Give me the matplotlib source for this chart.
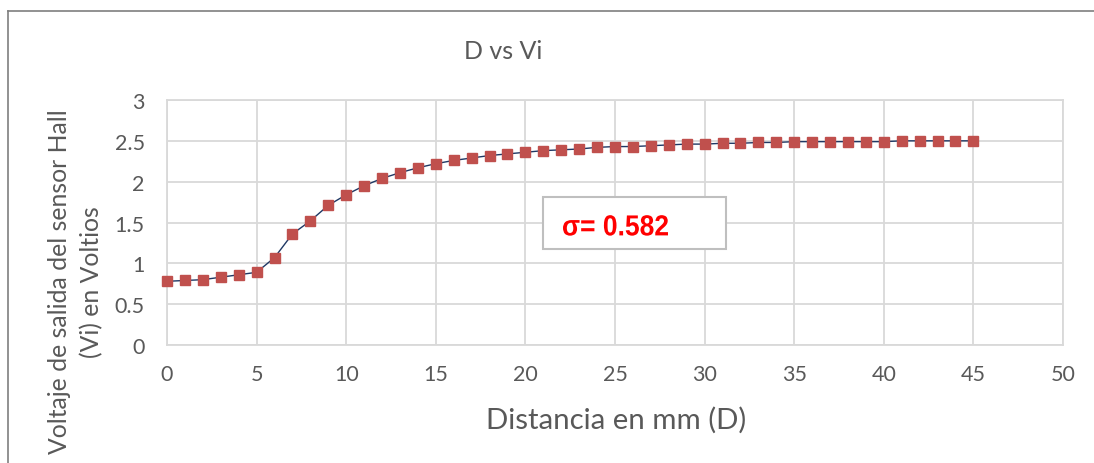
import matplotlib
matplotlib.use("Agg")
import matplotlib.pyplot as plt
from matplotlib.font_manager import FontProperties
from matplotlib.lines import Line2D
from matplotlib.patches import PathPatch, Rectangle
from matplotlib.textpath import TextPath
from matplotlib.transforms import Affine2D

# distance (mm) vs Hall sensor output (V)
distancia = list(range(0, 46))
voltaje = [
    0.78, 0.79, 0.80, 0.83, 0.86, 0.89, 1.07, 1.36, 1.52, 1.71,
    1.84, 1.95, 2.04, 2.11, 2.17, 2.22, 2.26, 2.29, 2.32, 2.34,
    2.36, 2.38, 2.39, 2.40, 2.42, 2.43, 2.43, 2.44, 2.45, 2.46,
    2.46, 2.47, 2.47, 2.48, 2.48, 2.49, 2.49, 2.49, 2.49, 2.49,
    2.49, 2.50, 2.50, 2.50, 2.50, 2.50,
]
x_ticks = [0, 5, 10, 15, 20, 25, 30, 35, 40, 45, 50]
y_ticks = [0, 0.5, 1, 1.5, 2, 2.5, 3]
y_tick_labels = ["0", "0.5", "1", "1.5", "2", "2.5", "3"]
sigma_text = "σ= 0.582"

TEXT = "#595959"
GRID = "#d9d9d9"
FONT = ["Lato", "DejaVu Sans"]

W, H = 1094, 464
fig = plt.figure(figsize=(W / 100, H / 100), dpi=100)
fig.patch.set_facecolor("white")

# plot area in pixels: x 167..1063, y 101..346
ax = fig.add_axes([167 / W, (H - 346) / H, (1063 - 167) / W, (346 - 101) / H])
ax.set_xlim(0, 50)
ax.set_ylim(0, 3)
ax.set_xticks(x_ticks)
ax.set_yticks(y_ticks)
ax.set_yticklabels(y_tick_labels)
ax.grid(True, color=GRID, linewidth=1.3)
for s in ax.spines.values():
    s.set_color(GRID)
    s.set_linewidth(1.3)
ax.tick_params(length=0, colors=TEXT, labelsize=15.5)
ax.tick_params(axis="y", pad=16)
ax.tick_params(axis="x", pad=14)
for lab in ax.get_xticklabels() + ax.get_yticklabels():
    lab.set_family(FONT)

ax.plot(distancia, voltaje, color="#1f3864", linewidth=1.0,
        marker="s", markersize=7, markerfacecolor="#c0504d",
        markeredgecolor="#c0504d", clip_on=False, zorder=3)

fig.text(503 / W, 1 - 52 / H, "D vs Vi", ha="center", va="center",
         color=TEXT, fontsize=18, family=FONT)
fig.text(616 / W, 1 - 420 / H, "Distancia en mm (D)", ha="center",
         va="center", color=TEXT, fontsize=21.2, family=FONT)
fig.text(60 / W, 1 - 282 / H, "Voltaje de salida del sensor Hall",
         ha="center", va="center", rotation=90, color=TEXT,
         fontsize=17.8, family=FONT)
fig.text(92 / W, 1 - 282 / H, "(Vi) en Voltios", ha="center",
         va="center", rotation=90, color=TEXT, fontsize=17.8, family=FONT)

# sigma box
box = Rectangle((543 / W, 1 - 250 / H), (726 - 543) / W, (250 - 198) / H,
                transform=fig.transFigure, facecolor="white",
                edgecolor="#bfbfbf", linewidth=1.5, zorder=5)
fig.patches.append(box)

# narrow bold label: text path squeezed horizontally (pixel coords)
tp = TextPath((0, 0), sigma_text, size=29,
              prop=FontProperties(family=["Liberation Sans", "DejaVu Sans"],
                                  weight="bold"))
ext = tp.get_extents()
sx = 105 / ext.width
tr = Affine2D().translate(-ext.x0, 0).scale(sx, 1).translate(563, H - 226 - 10.4)
fig.patches.append(PathPatch(tp, transform=tr, facecolor="#ff0000",
                             edgecolor="none", zorder=6))

# outer chart frame (top and left edges)
fig.lines.append(Line2D([8 / W, 1.0], [1 - 12 / H, 1 - 12 / H],
                        transform=fig.transFigure, color="#7f7f7f",
                        linewidth=1.2))
fig.lines.append(Line2D([8 / W, 8 / W], [0, 1 - 12 / H],
                        transform=fig.transFigure, color="#7f7f7f",
                        linewidth=1.2))

fig.savefig("out.png", dpi=100)
